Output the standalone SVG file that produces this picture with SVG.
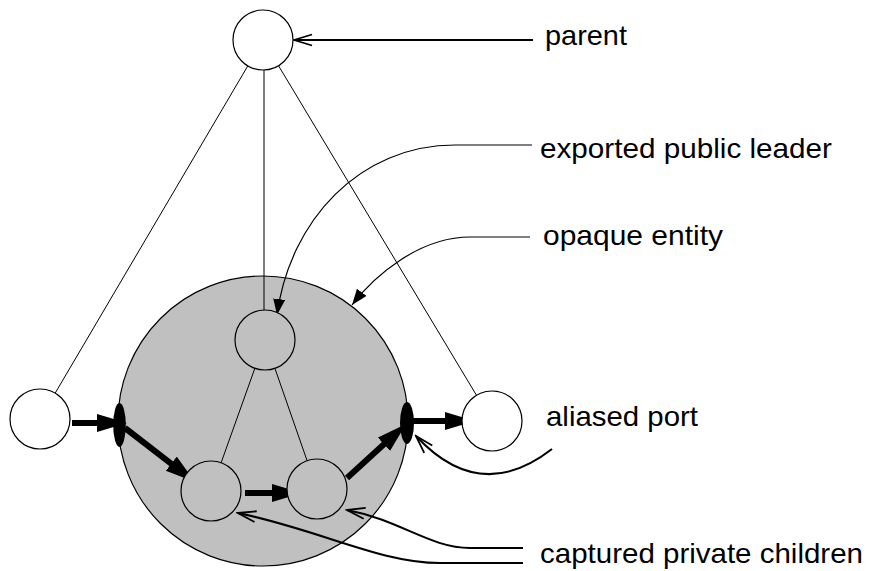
<svg xmlns="http://www.w3.org/2000/svg" width="871" height="571" viewBox="0 0 871 571">
<style>
.node{fill:#fff;stroke:#000;stroke-width:1.2}
.inner{fill:#c0c0c0;stroke:#000;stroke-width:1.2}
.edge{fill:none;stroke:#000;stroke-width:1}
.thick{fill:none;stroke:#000;stroke-width:6}
.lead{fill:none;stroke:#000;stroke-width:1.2}
.lead2{fill:none;stroke:#000;stroke-width:2}
.port{fill:#000;stroke:none}
text{font-family:"Liberation Sans",Arial,sans-serif;font-size:28px;fill:#000}
</style>
<defs>
<marker id="big" markerWidth="32" markerHeight="20" refX="10" refY="9" orient="auto" markerUnits="userSpaceOnUse">
<path d="M0,0 L30,9 L0,18 Z" fill="#000"/>
</marker>
<marker id="fill" markerWidth="20" markerHeight="14" refX="16" refY="6" orient="auto" markerUnits="userSpaceOnUse">
<path d="M0,0 L16,6 L0,12 Z" fill="#000"/>
</marker>
<marker id="open" markerWidth="22" markerHeight="16" refX="20" refY="8" orient="auto" markerUnits="userSpaceOnUse">
<path d="M2,2.5 L20,8 L2,13.5" fill="none" stroke="#000" stroke-width="1.8"/>
</marker>
</defs>

<g id="opaque-entity">
<circle cx="263" cy="421" r="145" class="inner"/>
</g>

<g id="connectors">
<line x1="247.8" y1="65.9" x2="55.2" y2="393.1" class="edge"/>
<line x1="264" y1="70" x2="264" y2="310" class="edge"/>
<line x1="278.5" y1="65.7" x2="476.5" y2="395.3" class="edge"/>
<line x1="254.9" y1="368.2" x2="221.1" y2="462.8" class="edge"/>
<line x1="274.9" y1="368.3" x2="307.1" y2="460.7" class="edge"/>
<line x1="72" y1="423" x2="107" y2="423" class="thick" marker-end="url(#big)"/>
<line x1="125" y1="428" x2="179.2" y2="469.8" class="thick" marker-end="url(#big)"/>
<line x1="245" y1="493" x2="282" y2="493" class="thick" marker-end="url(#big)"/>
<line x1="347" y1="478" x2="391.3" y2="437.5" class="thick" marker-end="url(#big)"/>
<line x1="413" y1="421" x2="455" y2="421" class="thick" marker-end="url(#big)"/>
<path d="M533,40 L294,40" class="lead2" marker-end="url(#open)"/>
<path d="M532,145 L455,145 C360,145 290,220 277,315" class="lead" marker-end="url(#fill)"/>
<path d="M530,237 L470,237 C420,237 375,275 352,305" class="lead" marker-end="url(#fill)"/>
<path d="M552,449 Q480,505 416,436" class="lead2" marker-end="url(#open)"/>
<path d="M523,548 L470,548 C430,548 400,520 347,510" class="lead2" marker-end="url(#open)"/>
<path d="M523,563 L440,563 C380,563 320,530 238,513" class="lead2" marker-end="url(#open)"/>
</g>

<g id="parent"><circle cx="263" cy="40" r="30" class="node"/></g>
<g id="left-node"><circle cx="40" cy="419" r="30" class="node"/></g>
<g id="right-node"><circle cx="492" cy="421" r="30" class="node"/></g>
<g id="public-leader"><circle cx="265" cy="340" r="30" class="inner"/></g>
<g id="private-child-1"><circle cx="211" cy="491" r="30" class="inner"/></g>
<g id="private-child-2"><circle cx="317" cy="489" r="30" class="inner"/></g>
<g id="port-left"><ellipse cx="119.5" cy="425" rx="6.3" ry="22" class="port"/></g>
<g id="port-right"><ellipse cx="407" cy="423" rx="7" ry="21" class="port"/></g>

<g id="labels">
<text x="545" y="45" textLength="82" lengthAdjust="spacingAndGlyphs">parent</text>
<text x="540" y="158" textLength="292" lengthAdjust="spacingAndGlyphs">exported public leader</text>
<text x="543" y="245" textLength="180" lengthAdjust="spacingAndGlyphs">opaque entity</text>
<text x="546" y="426" textLength="152" lengthAdjust="spacingAndGlyphs">aliased port</text>
<text x="540" y="563" textLength="323" lengthAdjust="spacingAndGlyphs">captured private children</text>
</g>
</svg>
